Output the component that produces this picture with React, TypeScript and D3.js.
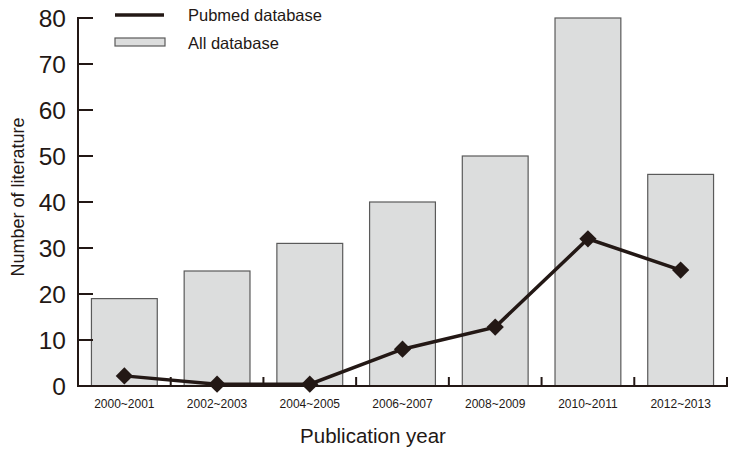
import React from "react";
import * as d3 from "d3";

const categories = ["2000~2001", "2002~2003", "2004~2005", "2006~2007", "2008~2009", "2010~2011", "2012~2013"];
const allDatabase = [19, 25, 31, 40, 50, 80, 46];
const pubmedDatabase = [2.2, 0.4, 0.4, 8, 12.8, 32, 25.2];
const yTicks = [0, 10, 20, 30, 40, 50, 60, 70, 80];

const W = 735, H = 453;
const left = 78, right = 727, top = 18, bottom = 386;
const dark = "#231815";

export default function App() {
  const x = d3.scaleBand<string>().domain(categories).range([left, right]).padding(0);
  const y = d3.scaleLinear().domain([0, 80]).range([bottom, top]);
  const bw = x.bandwidth() * 0.71;
  const cx = (c: string) => (x(c) as number) + x.bandwidth() / 2;
  const line = d3.line<number>().x((_, i) => cx(categories[i])).y((d) => y(d));
  const diamond = d3.symbol().type(d3.symbolDiamond2).size(190)();
  const font = "'Liberation Sans', Arial, sans-serif";
  const boundaries = categories.map((c) => (x(c) as number) + x.bandwidth());

  return (
    <svg width={W} height={H} style={{ position: "absolute", left: 0, top: 0, background: "#fff" }} fontFamily={font}>
      {categories.map((c, i) => (
        <rect key={c} x={cx(c) - bw / 2} y={y(allDatabase[i])} width={bw} height={bottom - y(allDatabase[i])}
          fill="#dcdddd" stroke="#5a5a5a" strokeWidth={1.2} />
      ))}
      {/* axes */}
      <line x1={left} y1={top - 1} x2={left} y2={bottom} stroke={dark} strokeWidth={2} />
      <line x1={left - 1} y1={bottom} x2={right + 1} y2={bottom} stroke={dark} strokeWidth={2} />
      {yTicks.map((t) => (
        <g key={t}>
          <line x1={left} x2={left + 15} y1={y(t)} y2={y(t)} stroke={dark} strokeWidth={2} />
          <text x={66} y={y(t)} dy="0.36em" textAnchor="end" fontSize={24.5} fill={dark}>{t}</text>
        </g>
      ))}
      {boundaries.map((b, i) => (
        <line key={i} x1={b} x2={b} y1={bottom} y2={bottom - 9} stroke={dark} strokeWidth={2} />
      ))}
      {categories.map((c) => (
        <text key={c} x={cx(c)} y={408} textAnchor="middle" fontSize={12} fill={dark}>{c}</text>
      ))}
      <text x={373} y={443} textAnchor="middle" fontSize={20.5} fill={dark}>Publication year</text>
      <text transform={`translate(24,197) rotate(-90)`} textAnchor="middle" fontSize={18} fill={dark}>Number of literature</text>
      {/* line series */}
      <path d={line(pubmedDatabase) as string} fill="none" stroke={dark} strokeWidth={3.5} />
      {pubmedDatabase.map((v, i) => (
        <path key={i} d={diamond as string} transform={`translate(${cx(categories[i])},${y(v)})`} fill={dark} />
      ))}
      {/* legend */}
      <line x1={115} x2={164} y1={15} y2={15} stroke={dark} strokeWidth={3.5} />
      <text x={188} y={15} dy="0.36em" fontSize={16.5} fill={dark}>Pubmed database</text>
      <rect x={115} y={38} width={50} height={8} fill="#dcdddd" stroke="#5a5a5a" strokeWidth={1.2} />
      <text x={188} y={43} dy="0.36em" fontSize={16.5} fill={dark}>All database</text>
    </svg>
  );
}
